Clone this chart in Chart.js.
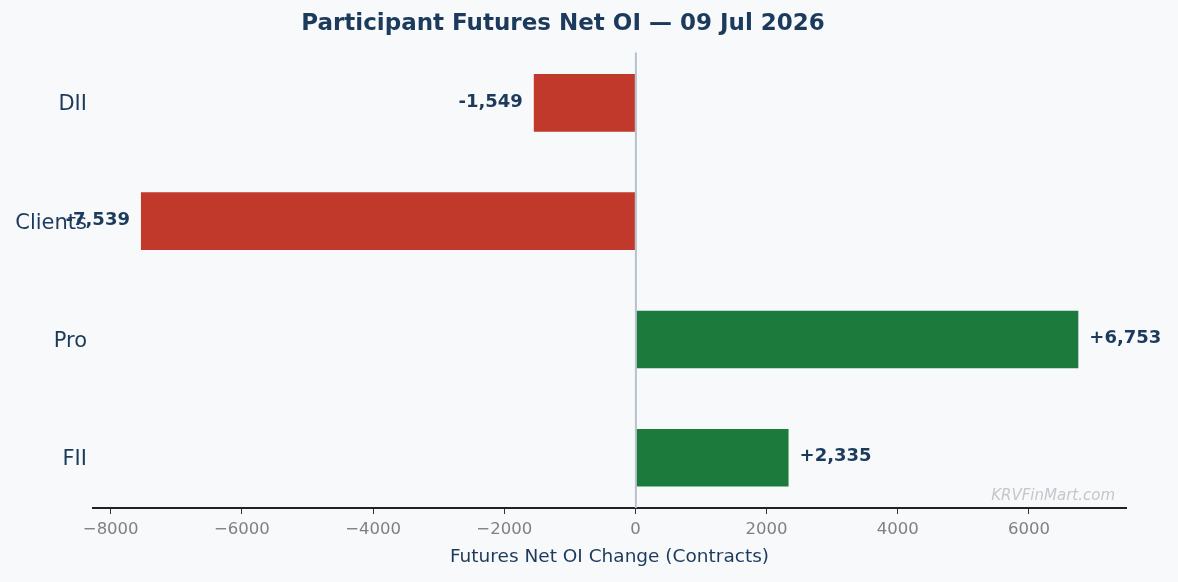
<!DOCTYPE html>
<html>
<head>
<meta charset="utf-8">
<script src="https://cdn.jsdelivr.net/npm/chart.js@4/dist/chart.umd.min.js"></script>
<style>
html,body{margin:0;padding:0;background:#f8f9fb;}
#wrap{width:1178px;height:582px;}
</style>
</head>
<body>
<div id="wrap"><canvas id="c" width="1178" height="582"></canvas></div>
<script>
const categories = ['FII', 'Pro', 'Clients', 'DII'];
const netOI = [2335, 6753, -7539, -1549];
const xTicks = [-8000, -6000, -4000, -2000, 0, 2000, 4000, 6000];
const titleText = 'Participant Futures Net OI \u2014 09 Jul 2026';
const xTitle = 'Futures Net OI Change (Contracts)';
const watermark = 'KRVFinMart.com';

const NAVY = '#1b3a5c';
const FONT = "'DejaVu Sans', sans-serif";
const posColor = '#1c7a3c';
const negColor = '#c0392b';

const labelPlugin = {
  id: 'vals',
  afterDatasetsDraw(chart) {
    const ctx = chart.ctx;
    const meta = chart.getDatasetMeta(0);
    const xs = chart.scales.x;
    const area = chart.chartArea;
    ctx.save();
    // zero reference line drawn above bars
    const x0 = xs.getPixelForValue(0);
    ctx.strokeStyle = '#b5c2cf';
    ctx.lineWidth = 2;
    ctx.beginPath();
    ctx.moveTo(x0 + 0.5, area.top);
    ctx.lineTo(x0 + 0.5, area.bottom);
    ctx.stroke();

    ctx.font = 'bold 18px ' + FONT;
    ctx.fillStyle = NAVY;
    ctx.textBaseline = 'middle';
    meta.data.forEach((bar, i) => {
      const v = netOI[i];
      const s = (v > 0 ? '+' : '-') + Math.abs(v).toLocaleString('en-US');
      if (v >= 0) { ctx.textAlign = 'left'; ctx.fillText(s, bar.x + 11, bar.y - 1); }
      else { ctx.textAlign = 'right'; ctx.fillText(s, bar.x - 11, bar.y - 1); }
    });
    // watermark
    ctx.font = 'italic 15px ' + FONT;
    ctx.fillStyle = '#c3c7cc';
    ctx.textAlign = 'right';
    ctx.textBaseline = 'alphabetic';
    ctx.fillText(watermark, area.right - 11, area.bottom - 8);
    ctx.restore();
  }
};
const bgPlugin = {
  id: 'bg',
  beforeDraw(chart) {
    const ctx = chart.ctx;
    ctx.save();
    ctx.fillStyle = '#f8f9fb';
    ctx.fillRect(0, 0, chart.width, chart.height);
    ctx.restore();
  }
};

new Chart(document.getElementById('c'), {
  type: 'bar',
  data: {
    datasets: [{
      data: netOI.map((v, i) => ({ x: v, y: i })),
      backgroundColor: netOI.map(v => v >= 0 ? posColor : negColor),
      borderWidth: 0,
      barPercentage: 0.487,
      categoryPercentage: 1.0
    }]
  },
  options: {
    indexAxis: 'y',
    responsive: false,
    animation: false,
    devicePixelRatio: 1,
    layout: { padding: { top: 0, left: 0, right: 52, bottom: 0 } },
    plugins: {
      legend: { display: false },
      tooltip: { enabled: false },
      title: {
        display: true,
        text: titleText,
        color: NAVY,
        font: { family: FONT, size: 23, weight: 'bold', lineHeight: 1.2 },
        padding: { top: 10, bottom: 15 }
      }
    },
    scales: {
      x: {
        type: 'linear',
        min: -8270,
        max: 7480,
        offset: false,
        afterBuildTicks: s => { s.ticks = xTicks.map(v => ({ value: v })); },
        afterFit: s => { s.height = 74; },
        border: { display: true, color: '#222222', width: 2 },
        grid: {
          drawOnChartArea: false,
          offset: false,
          tickColor: '#333333',
          tickLength: 6,
          tickWidth: 1
        },
        ticks: {
          color: '#808080',
          font: { family: FONT, size: 16.5 },
          padding: 6,
          maxRotation: 0,
          autoSkip: false,
          callback: v => v < 0 ? '\u2212' + Math.abs(v) : String(v)
        },
        title: {
          display: true,
          text: xTitle,
          color: NAVY,
          font: { family: FONT, size: 18.5 },
          padding: { top: 2, bottom: 14 }
        }
      },
      y: {
        type: 'linear',
        min: -0.425,
        max: 3.425,
        offset: false,
        afterBuildTicks: s => { s.ticks = categories.map((c, i) => ({ value: i })); },
        afterFit: s => { s.width = 93; },
        border: { display: false },
        grid: { display: false, drawTicks: false, offset: false },
        ticks: {
          color: NAVY,
          font: { family: FONT, size: 21 },
          padding: 6,
          labelOffset: 2,
          autoSkip: false,
          callback: v => categories[v]
        }
      }
    }
  },
  plugins: [bgPlugin, labelPlugin]
});
</script>
</body>
</html>
